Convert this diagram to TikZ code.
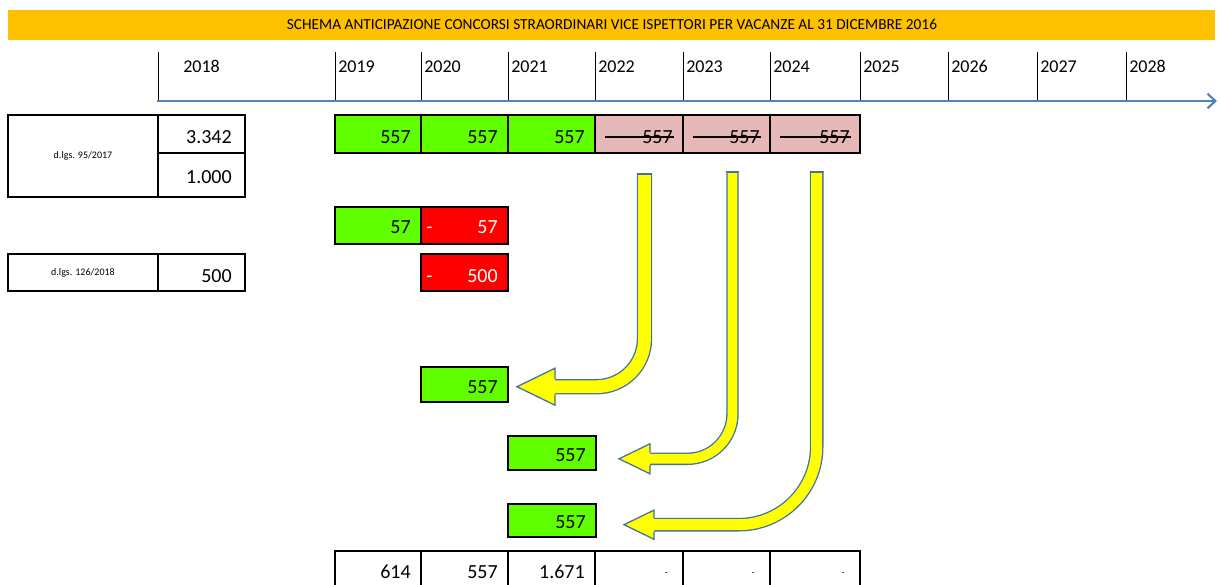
\documentclass[tikz,border=0pt]{standalone}
\usepackage{fontspec}
\setmainfont{Carlito}
\usetikzlibrary{calc,arrows.meta,fit}

\definecolor{hdr}{HTML}{FFC000}
\definecolor{grn}{HTML}{5FFF00}
\definecolor{pnk}{HTML}{E6B8B7}
\definecolor{rd}{HTML}{FF0000}
\definecolor{ylw}{HTML}{FFFF00}
\definecolor{tlblue}{HTML}{4F81BD}
\definecolor{arrblue}{HTML}{41719C}

% #1 name, #2 vx, #3 top y, #4 horizontal y, #5 radius, #6 half width, #7 head base x, #8 tip x, #9 head half height
\newcommand\bentarrow[9]{%
  \coordinate (#1s) at (#2,#3);
  \coordinate (#1b) at (#7-3,#4);
  \coordinate (#1e) at (#8,#4);
  \draw[arrblue, line width={#6*1.5pt}, rounded corners={#5*0.75pt}] (#1s) |- (#1b);
  \draw[ylw, line width={(#6-1.3)*1.5pt}, rounded corners={#5*0.75pt}] ($(#1s)+(0,2)$) |- (#1b);
  \fill[ylw] (#7,#4-#9) -- (#1e) -- (#7,#4+#9) -- cycle;
  \draw[arrblue, line width=0.95pt, line join=miter] (#7,#4-#6) -- (#7,#4-#9) -- (#1e) -- (#7,#4+#9) -- (#7,#4+#6);
  \draw[arrblue, line width=0.95pt] (#2-#6,#3+0.6) -- (#2+#6,#3+0.6);
}

\begin{document}
\begin{tikzpicture}[x=0.75pt,y=-0.75pt,
  cell/.style={draw=black, line width=0.9pt, inner sep=0pt, outer sep=0pt},
  val/.style={font=\fontsize{15}{15}\selectfont, anchor=base east, inner sep=0pt},
  minus/.style={font=\fontsize{15}{15}\selectfont, anchor=base west, inner sep=0pt, text=white},
  nilmark/.style={font=\fontsize{7}{7}\selectfont, anchor=base east, inner sep=0pt},
  yr/.style={font=\fontsize{13.5}{13.5}\selectfont, anchor=base west, inner sep=0pt},
  law/.style={font=\fontsize{7.5}{7.5}\selectfont, inner sep=0pt},
  strike/.style={draw=black, line width=1.2pt},
  tick/.style={draw=black, line width=0.75pt}
]
\useasboundingbox (0,0) rectangle (1220,585);
\fill[white] (0,0) rectangle (1220,585);

% header
\node[fill=hdr, inner sep=0pt, outer sep=0pt, fit={(8,10) (1215,40)}] (hdr) {};
\node[font=\fontsize{11.5}{13}\selectfont, anchor=base, inner sep=0pt] (title) at (612,30)
  {SCHEMA ANTICIPAZIONE CONCORSI STRAORDINARI VICE ISPETTORI PER VACANZE AL 31 DICEMBRE 2016};

% timeline
\foreach \x in {158,335,421,508,595,683,770,860,948,1037,1126}
  \draw[tick] (\x,52) -- (\x,101);
\node[yr, anchor=base] (y2018) at (201.5,73) {2018};
\foreach \x/\yy in {335/2019,421/2020,508/2021,595/2022,683/2023,770/2024,860/2025,948/2026,1037/2027,1126/2028}
  \node[yr] (y\yy) at (\x+3,73) {\yy};
\coordinate (tl0) at (157,101);
\coordinate (tl1) at (1217,101);
\draw[tlblue, line width=2.2pt, -{Straight Barb[length=6pt,width=11pt,line width=1.6pt]}] (tl0) -- (tl1);

% left boxes
\node[cell, fit={(8,115) (158,197)}] (law1) {};
\node[law] (law1t) at (law1.center) {d.lgs. 95/2017};
\node[cell, fit={(158,115) (245,153)}] (l1a) {};
\node[val] (l1av) at ($(l1a.south east)+(-13,-10)$) {3.342};
\node[cell, fit={(158,153) (245,197)}] (l1b) {};
\node[val] (l1bv) at ($(l1b.south east)+(-13,-14)$) {1.000};
\node[cell, fit={(8,254) (158,291)}] (law2) {};
\node[law] (law2t) at (law2.center) {d.lgs. 126/2018};
\node[cell, fit={(158,254) (245,291)}] (l2a) {};
\node[val] (l2av) at ($(l2a.south east)+(-13,-9)$) {500};

% top row
\node[cell, fill=grn, fit={(335,115) (421,153)}] (c19) {};
\node[cell, fill=grn, fit={(421,115) (508,153)}] (c20) {};
\node[cell, fill=grn, fit={(508,115) (595,153)}] (c21) {};
\node[cell, fill=pnk, fit={(595,115) (683,153)}] (c22) {};
\node[cell, fill=pnk, fit={(683,115) (770,153)}] (c23) {};
\node[cell, fill=pnk, fit={(770,115) (860,153)}] (c24) {};
\foreach \c in {19,20,21,22,23,24}
  \node[val] (v\c) at ($(c\c.south east)+(-10,-10)$) {557};
\foreach \c in {22,23,24}
  \draw[strike] ($(c\c.south west)+(10,-16)$) -- ($(c\c.south east)+(-9,-16)$);

% second row
\node[cell, fill=grn, fit={(335,207) (421,244)}] (r2a) {};
\node[val] (r2av) at ($(r2a.south east)+(-10,-11)$) {57};
\node[cell, fill=rd, fit={(421,207) (508,244)}] (r2b) {};
\node[minus] (r2bm) at ($(r2b.south west)+(5,-11)$) {-};
\node[val, text=white] (r2bv) at ($(r2b.south east)+(-10,-11)$) {57};

% third row
\node[cell, fill=rd, fit={(421,254) (508,291)}] (r3b) {};
\node[minus] (r3bm) at ($(r3b.south west)+(5,-9)$) {-};
\node[val, text=white] (r3bv) at ($(r3b.south east)+(-10,-9)$) {500};

% moved boxes
\node[cell, fill=grn, fit={(421,367) (508,402)}] (m1) {};
\node[val] (m1v) at ($(m1.south east)+(-10,-9)$) {557};
\node[cell, fill=grn, fit={(508,436) (596,470)}] (m2) {};
\node[val] (m2v) at ($(m2.south east)+(-10,-9)$) {557};
\node[cell, fill=grn, fit={(508,504) (596,537)}] (m3) {};
\node[val] (m3v) at ($(m3.south east)+(-10,-9)$) {557};

% bent arrows
\bentarrow{a1}{644.5}{173}{386.7}{48}{7.7}{555}{517}{18.5}
\bentarrow{a2}{732.5}{171}{458.8}{45}{6.2}{650}{619}{15}
\bentarrow{a3}{816.7}{171}{524.7}{78}{6.8}{654}{624}{14.6}

% bottom row
\node[cell, fit={(335,551) (421,600)}] (b19) {};
\node[cell, fit={(421,551) (508,600)}] (b20) {};
\node[cell, fit={(508,551) (595,600)}] (b21) {};
\node[cell, fit={(595,551) (683,600)}] (b22) {};
\node[cell, fit={(683,551) (770,600)}] (b23) {};
\node[cell, fit={(770,551) (860,600)}] (b24) {};
\draw[line width=1.5pt] (b24.north east) -- (b24.south east);
\node[val] (b19v) at ($(b19.north east)+(-10,27)$) {614};
\node[val] (b20v) at ($(b20.north east)+(-10,27)$) {557};
\node[val] (b21v) at ($(b21.north east)+(-10,27)$) {1.671};
\foreach \c in {22,23,24}
  \node[nilmark] (b\c v) at ($(b\c.north east)+(-15,24)$) {-};
\end{tikzpicture}
\end{document}
